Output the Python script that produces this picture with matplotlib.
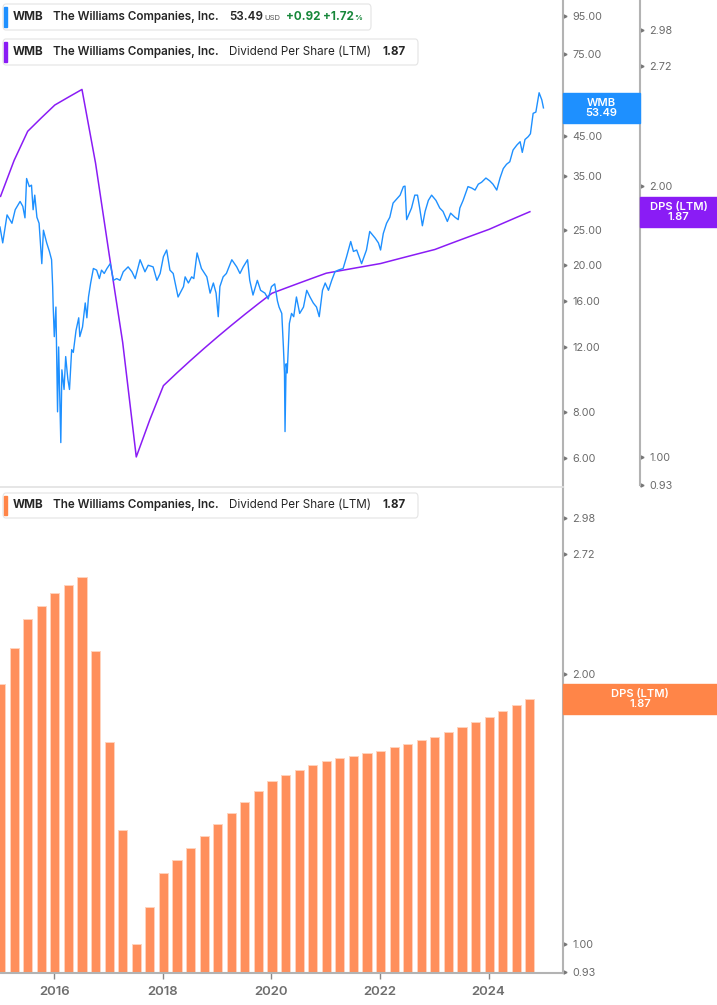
import numpy as np
import matplotlib
matplotlib.use("Agg")
import matplotlib.pyplot as plt
from matplotlib.patches import FancyBboxPatch, Rectangle
import matplotlib.ticker as mticker

plt.rcParams['font.family'] = ['Inter', 'DejaVu Sans']

# ---- data ----
# WMB close price (decimal year, USD)
price_t = [2015.00, 2015.05, 2015.13, 2015.22, 2015.28, 2015.37, 2015.42, 2015.46, 2015.49, 2015.54,
           2015.58, 2015.61, 2015.64, 2015.68, 2015.72, 2015.77, 2015.80, 2015.86, 2015.91, 2015.95,
           2015.97, 2015.98, 2016.00, 2016.03, 2016.06, 2016.08, 2016.12, 2016.14, 2016.18, 2016.21,
           2016.25, 2016.28, 2016.32, 2016.35, 2016.40, 2016.45, 2016.47, 2016.52, 2016.57, 2016.60,
           2016.63, 2016.67, 2016.72, 2016.78, 2016.83, 2016.87, 2016.92, 2016.97, 2017.03, 2017.09,
           2017.15, 2017.21, 2017.27, 2017.36, 2017.43, 2017.49, 2017.58, 2017.67, 2017.73, 2017.82,
           2017.89, 2017.95, 2018.01, 2018.07, 2018.13, 2018.19, 2018.28, 2018.38, 2018.41, 2018.47,
           2018.53, 2018.57, 2018.63, 2018.71, 2018.81, 2018.87, 2018.93, 2018.98, 2019.02, 2019.05,
           2019.11, 2019.17, 2019.27, 2019.36, 2019.42, 2019.48, 2019.56, 2019.60, 2019.66, 2019.74,
           2019.80, 2019.88, 2019.94, 2020.00, 2020.06, 2020.11, 2020.14, 2020.19, 2020.22, 2020.24,
           2020.25, 2020.27, 2020.29, 2020.33, 2020.37, 2020.41, 2020.46, 2020.52, 2020.59, 2020.65,
           2020.71, 2020.77, 2020.83, 2020.88, 2020.94, 2020.99, 2021.05, 2021.11, 2021.17, 2021.23,
           2021.32, 2021.38, 2021.46, 2021.51, 2021.57, 2021.66, 2021.75, 2021.81, 2021.91, 2021.97,
           2022.01, 2022.06, 2022.12, 2022.18, 2022.24, 2022.31, 2022.37, 2022.43, 2022.46, 2022.49,
           2022.54, 2022.58, 2022.64, 2022.69, 2022.73, 2022.78, 2022.83, 2022.89, 2022.95, 2023.03,
           2023.10, 2023.16, 2023.24, 2023.30, 2023.38, 2023.44, 2023.47, 2023.53, 2023.62, 2023.69,
           2023.75, 2023.81, 2023.87, 2023.95, 2024.02, 2024.08, 2024.15, 2024.21, 2024.27, 2024.33,
           2024.39, 2024.45, 2024.52, 2024.58, 2024.62, 2024.67, 2024.73, 2024.77, 2024.82, 2024.87,
           2024.93, 2024.98, 2025.01]
price = [25.4, 23.0, 27.4, 26.0, 28.3, 29.8, 28.9, 26.9, 34.4, 32.7,
         33.0, 28.3, 31.0, 27.0, 26.0, 20.2, 24.9, 23.0, 21.8, 20.7,
         17.5, 15.4, 12.8, 15.4, 8.0, 12.0, 6.6, 10.4, 9.2, 11.3,
         9.8, 9.2, 11.8, 11.6, 13.3, 14.4, 12.8, 13.6, 15.8, 14.4,
         16.4, 17.9, 19.6, 19.4, 18.4, 19.4, 19.0, 19.6, 20.2, 18.2,
         18.4, 18.2, 19.2, 19.8, 19.2, 18.4, 20.7, 19.2, 20.0, 19.8,
         18.2, 19.0, 21.1, 22.0, 19.4, 19.0, 16.4, 17.5, 18.6, 17.9,
         18.6, 18.4, 21.6, 19.6, 18.6, 16.8, 17.9, 16.8, 14.5, 17.5,
         18.6, 19.0, 20.7, 19.8, 19.0, 19.8, 20.7, 18.2, 16.6, 18.2,
         17.1, 16.8, 16.2, 17.5, 17.8, 16.0, 15.4, 14.8, 12.0, 10.2,
         7.07, 10.8, 10.2, 13.9, 14.8, 14.5, 16.4, 14.8, 15.4, 17.1,
         16.4, 15.8, 15.4, 14.5, 17.1, 17.9, 17.1, 18.2, 19.2, 19.4,
         19.6, 21.0, 23.2, 21.8, 22.0, 20.2, 22.0, 24.7, 23.7, 23.0,
         22.0, 24.4, 26.0, 27.0, 29.5, 30.3, 31.0, 32.7, 32.8, 26.6,
         27.7, 28.6, 31.0, 31.0, 28.6, 25.6, 28.0, 30.0, 31.0, 30.0,
         28.6, 28.0, 26.3, 27.7, 27.0, 26.6, 28.6, 30.0, 32.7, 32.4,
         32.0, 33.2, 33.6, 34.5, 33.9, 33.2, 32.0, 34.5, 36.6, 37.6,
         38.2, 41.1, 42.4, 43.3, 40.5, 43.9, 44.7, 45.5, 51.7, 52.1,
         58.8, 56.2, 53.49]

# Dividend per share, LTM, quarterly 2015Q1 .. 2024Q4
dps_years = [2015 + q // 4 for q in range(40)]
dps_quarter = [q % 4 for q in range(40)]
dps = [1.9475, 2.135, 2.30, 2.38, 2.46, 2.51, 2.56, 2.12, 1.68, 1.34,
       1.00, 1.10, 1.20, 1.24, 1.28, 1.32, 1.36, 1.40, 1.44, 1.48,
       1.52, 1.54, 1.56, 1.58, 1.60, 1.61, 1.62, 1.63, 1.64, 1.655,
       1.67, 1.685, 1.70, 1.7225, 1.745, 1.7675, 1.79, 1.8175, 1.845, 1.8725]

price_ticks = [6, 8, 12, 16, 20, 25, 35, 45, 55, 75, 95]
dps_ticks = [0.93, 1.00, 2.00, 2.72, 2.98]
year_ticks = [2016, 2018, 2020, 2022, 2024]

BLUE = '#1e90ff'
PURPLE = '#8a1cf5'
ORANGE = '#ff8f5c'
ORANGE_BOX = '#ff8548'
AXIS = '#b3b3b3'
TICK_TXT = '#6b6b6b'

W, H = 717, 1005
def fx(px):
    return px / W
def fy(py):
    return 1 - py / H

dps_t = np.array(dps_years) + np.array(dps_quarter) / 4 + 0.01
xlim = (2015.0, 2025.37)

fig = plt.figure(figsize=(W / 100, H / 100), dpi=100)
ax1 = fig.add_axes([0, fy(487), fx(563), 487 / H])
ax3 = fig.add_axes([0, fy(973), fx(563), 485 / H])
ax2 = ax1.twinx()

# ---- top panel: price + DPS line ----
ax1.plot(price_t, price, color=BLUE, lw=1.0, zorder=3)
ax1.set_yscale('log')
ax1.set_ylim(5.0, 105.0)
ax1.set_xlim(*xlim)

ax2.plot(dps_t, dps, color=PURPLE, lw=1.1, zorder=2)
ax2.set_yscale('log')
ax2.set_ylim(0.926, 3.218)
ax2.set_xlim(*xlim)

# ---- bottom panel: DPS bars ----
b0 = 0.928
ax3.bar(dps_t, np.array(dps) - b0, bottom=b0, width=0.17, color=ORANGE,
        edgecolor='#ffd3bd', linewidth=0.7, zorder=2)
ax3.set_yscale('log')
ax3.set_ylim(b0, 3.219)
ax3.set_xlim(*xlim)


def right_axis(ax, ticks, pad, xpos=1.0):
    ax.yaxis.set_major_locator(mticker.FixedLocator(ticks))
    ax.yaxis.set_minor_locator(mticker.NullLocator())
    ax.yaxis.set_major_formatter(mticker.FormatStrFormatter('%.2f'))
    ax.yaxis.tick_right()
    ax.tick_params(axis='y', length=0, pad=pad, labelsize=7.8, labelcolor=TICK_TXT)
    ax.plot([xpos + 0.004] * len(ticks), ticks, ls='none', marker='>', ms=2.2,
            color='#777777', transform=ax.get_yaxis_transform(), clip_on=False)


for a in (ax1, ax2, ax3):
    for s in a.spines.values():
        s.set_visible(False)
    a.set_facecolor('none')

ax1.set_zorder(2)
ax2.set_zorder(1)
ax1.patch.set_visible(False)

right_axis(ax1, price_ticks, 6.5)
ax1.spines['right'].set_visible(True)
ax1.spines['right'].set_color(AXIS)
ax1.spines['right'].set_linewidth(1.5)
ax1.spines['bottom'].set_visible(True)
ax1.spines['bottom'].set_color('#e2e2e2')
ax1.spines['bottom'].set_linewidth(1.2)
ax1.set_xticks([])

xr = fx(640) / fx(563)
right_axis(ax2, dps_ticks, 6.5, xr)
ax2.spines['right'].set_visible(True)
ax2.spines['right'].set_position(('axes', xr))
ax2.spines['right'].set_color(AXIS)
ax2.spines['right'].set_linewidth(1.5)
ax2.spines['right'].set_bounds(0.93, 3.218)
ax2.set_xticks([])

right_axis(ax3, dps_ticks, 6.5)
for side in ('right', 'bottom'):
    ax3.spines[side].set_visible(True)
    ax3.spines[side].set_color(AXIS)
    ax3.spines[side].set_linewidth(1.5)
ax3.set_xticks(year_ticks)
ax3.set_xticklabels([str(y) for y in year_ticks])
ax3.tick_params(axis='x', length=4, width=1, color='#888888', pad=5,
                labelsize=9.5, labelcolor='#6e6e6e')
for lbl in ax3.get_xticklabels():
    lbl.set_fontweight('semibold')

# ---- value boxes on the right ----
fig.canvas.draw()


def value_box(ax, val, x0, x1, color, text):
    ypix = ax.transData.transform((xlim[0], val))[1]
    h = 30
    fig.add_artist(Rectangle((fx(x0), ypix / H - h / 2 / H), (x1 - x0) / W, h / H,
                             transform=fig.transFigure, color=color, zorder=10, clip_on=False))
    fig.text(fx((x0 + x1) / 2), ypix / H, text, color='white', ha='center', va='center',
             fontsize=8, fontweight='semibold', linespacing=1.05, zorder=11)


value_box(ax1, price[-1], 563, 640, BLUE, 'WMB\n%.2f' % price[-1])
value_box(ax2, dps[-1], 640, 717, PURPLE, 'DPS (LTM)\n%.2f' % dps[-1])
value_box(ax3, dps[-1], 563, 717, ORANGE_BOX, 'DPS (LTM)\n%.2f' % dps[-1])

# ---- legend boxes ----
DARK = '#262626'
GREEN = '#17873a'


def legend_box(y0, y1, x1, color):
    fig.add_artist(FancyBboxPatch((fx(3), fy(y1)), fx(x1) - fx(3), (y1 - y0) / H,
                                  boxstyle='round,pad=0,rounding_size=0.004',
                                  transform=fig.transFigure, facecolor='white',
                                  edgecolor='#e4e4e4', lw=0.8, zorder=12))
    fig.add_artist(Rectangle((fx(4), fy(y1 - 3)), 3 / W, (y1 - y0 - 6) / H,
                             transform=fig.transFigure, color=color, zorder=13))


def txt(x, y, s, **kw):
    opts = dict(fontsize=8.4, color=DARK, va='center', ha='left', zorder=14)
    opts.update(kw)
    fig.text(fx(x), fy(y), s, **opts)


legend_box(4, 30, 371, BLUE)
txt(13, 17, 'WMB', fontweight='bold')
txt(53, 17, 'The Williams Companies, Inc.', fontweight='semibold')
txt(229, 17, '%.2f' % price[-1], fontweight='semibold')
txt(264, 18, 'USD', fontsize=5.5, color='#555555')
txt(286, 17, '+0.92', color=GREEN, fontweight='bold')
txt(323, 17, '+1.72', color=GREEN, fontweight='bold')
txt(354, 18, '%', color=GREEN, fontsize=5.5, fontweight='bold')

legend_box(39, 65, 418, PURPLE)
txt(13, 52, 'WMB', fontweight='bold')
txt(53, 52, 'The Williams Companies, Inc.', fontweight='semibold')
txt(229, 52, 'Dividend Per Share (LTM)')
txt(382, 52, '%.2f' % dps[-1], fontweight='bold')

legend_box(493, 518, 418, ORANGE_BOX)
txt(13, 505, 'WMB', fontweight='bold')
txt(53, 505, 'The Williams Companies, Inc.', fontweight='semibold')
txt(229, 505, 'Dividend Per Share (LTM)')
txt(382, 505, '%.2f' % dps[-1], fontweight='bold')

fig.savefig('out.png', dpi=100)
